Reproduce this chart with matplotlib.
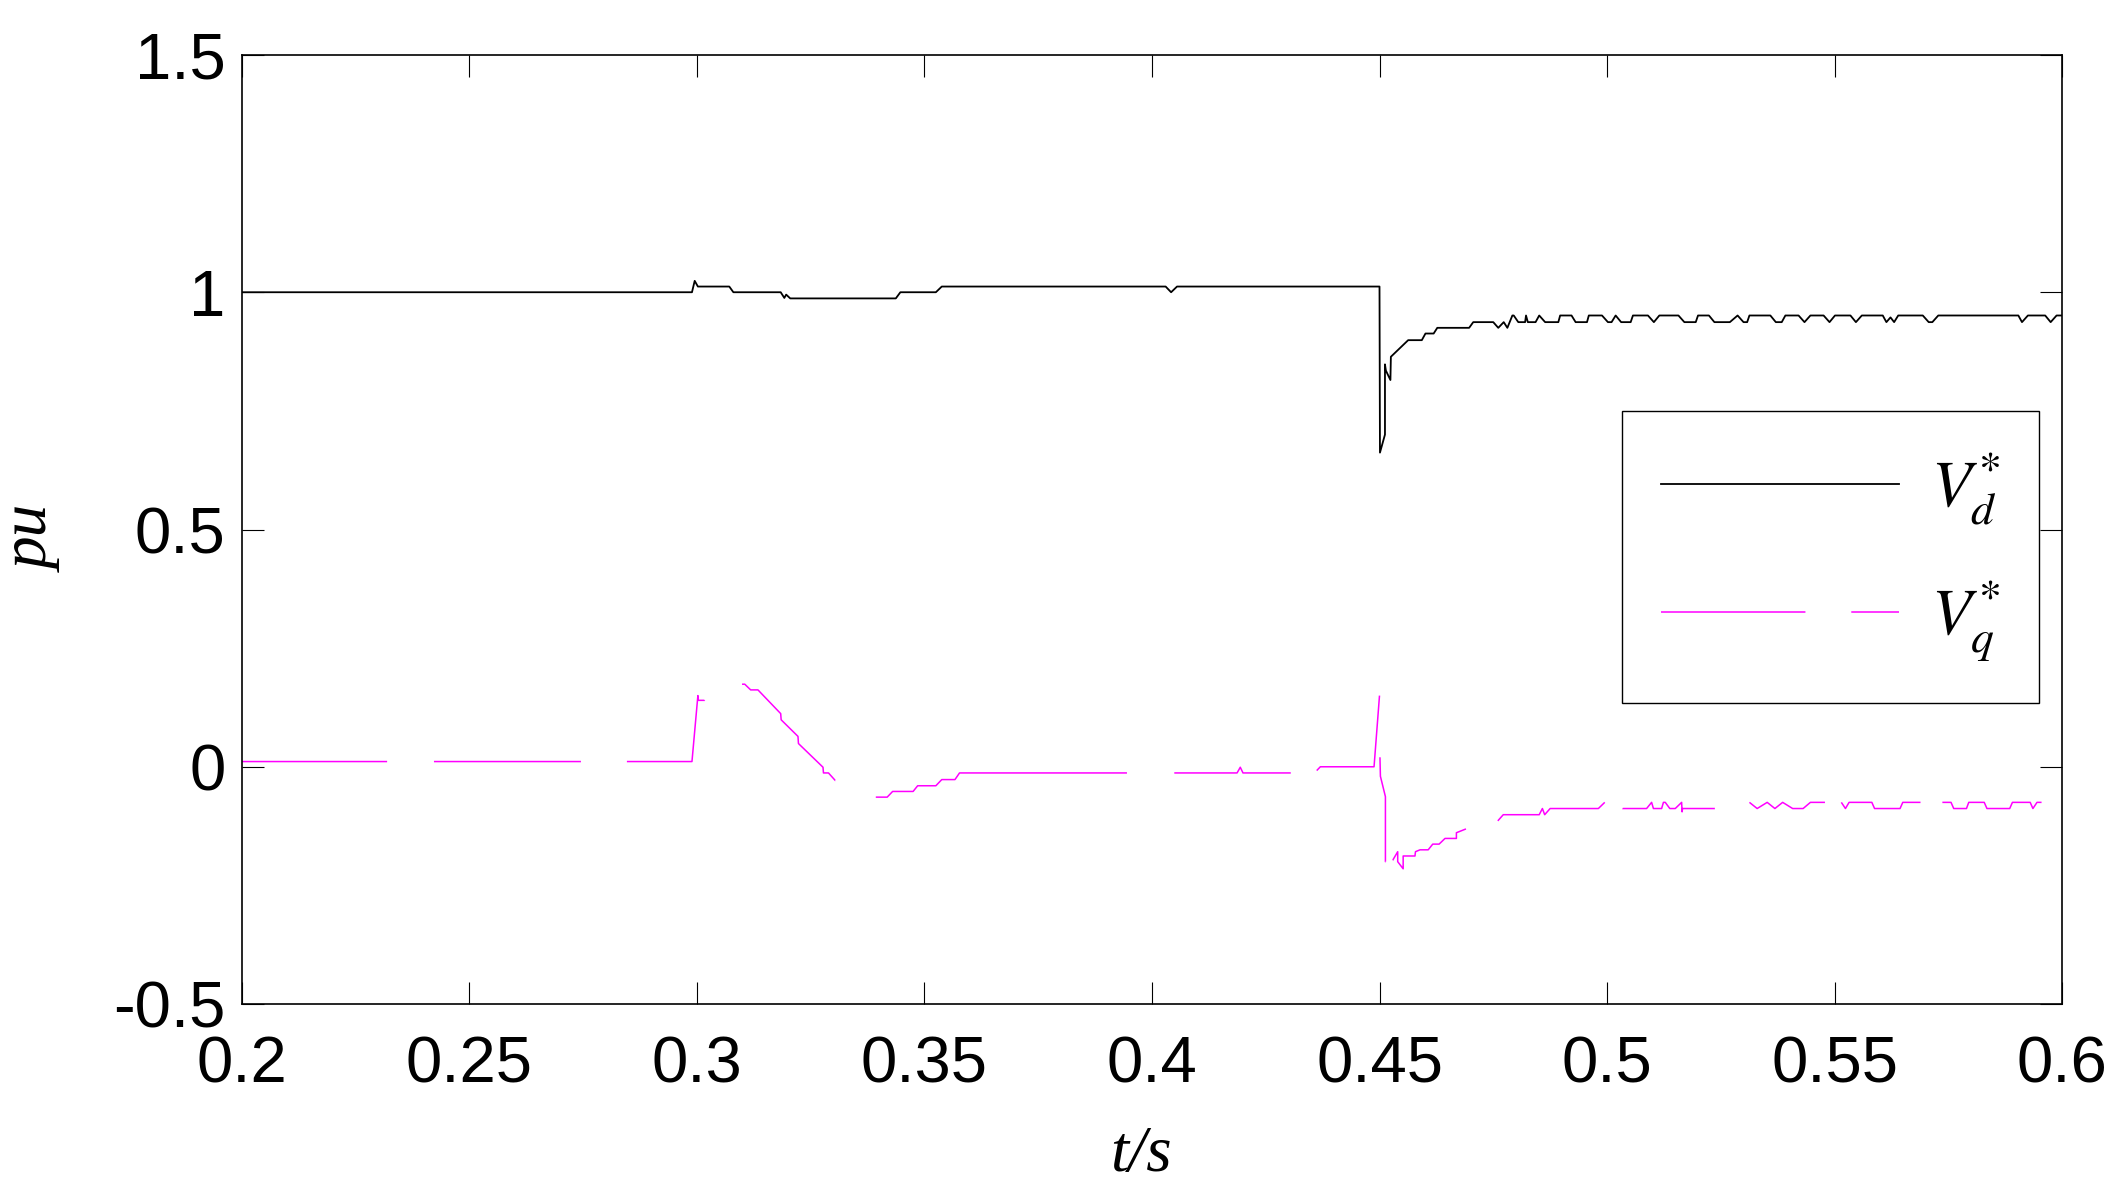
import matplotlib
matplotlib.use("Agg")
import numpy as np
import matplotlib.pyplot as plt

# ================================
# Data
# ================================

# V_d* : time (s) and value (pu)
vd_t = [0.2, 0.2989, 0.2995, 0.3002, 0.3071, 0.3080, 0.3184, 0.3192, 0.3196, 0.3205,
        0.3437, 0.3447, 0.3525, 0.3538, 0.4030, 0.4042, 0.4055, 0.4500, 0.4501, 0.4512,
        0.4512, 0.4514, 0.4524, 0.4525, 0.4563, 0.4593, 0.4601, 0.4619, 0.4627, 0.4697,
        0.4706, 0.4750, 0.4761, 0.4773, 0.4781, 0.4792, 0.4795, 0.4805, 0.4820, 0.4822,
        0.4826, 0.4843, 0.4851, 0.4864, 0.4893, 0.4897, 0.4922, 0.4931, 0.4956, 0.4960,
        0.4989, 0.5002, 0.5010, 0.5019, 0.5031, 0.5052, 0.5057, 0.5090, 0.5103, 0.5115,
        0.5157, 0.5170, 0.5195, 0.5200, 0.5224, 0.5236, 0.5270, 0.5287, 0.5300, 0.5308,
        0.5313, 0.5359, 0.5371, 0.5384, 0.5392, 0.5421, 0.5434, 0.5447, 0.5476, 0.5489,
        0.5501, 0.5535, 0.5547, 0.5560, 0.5606, 0.5614, 0.5623, 0.5631, 0.5640, 0.5694,
        0.5707, 0.5715, 0.5728, 0.5904, 0.5912, 0.5925, 0.5963, 0.5975, 0.5988, 0.6000]
vd_y = [1.0, 1.0, 1.024, 1.012, 1.012, 1.0, 1.0, 0.988, 0.995, 0.987,
        0.987, 1.0, 1.0, 1.012, 1.012, 1.0, 1.012, 1.012, 0.662, 0.700,
        0.848, 0.835, 0.815, 0.864, 0.899, 0.899, 0.913, 0.913, 0.925, 0.925,
        0.937, 0.937, 0.925, 0.937, 0.925, 0.951, 0.951, 0.937, 0.937, 0.951,
        0.937, 0.937, 0.951, 0.937, 0.937, 0.951, 0.951, 0.937, 0.937, 0.951,
        0.951, 0.937, 0.937, 0.951, 0.937, 0.937, 0.951, 0.951, 0.937, 0.951,
        0.951, 0.937, 0.937, 0.951, 0.951, 0.937, 0.937, 0.951, 0.937, 0.937,
        0.951, 0.951, 0.937, 0.937, 0.951, 0.951, 0.937, 0.951, 0.951, 0.937,
        0.951, 0.951, 0.937, 0.951, 0.951, 0.937, 0.947, 0.937, 0.951, 0.951,
        0.937, 0.937, 0.951, 0.951, 0.937, 0.951, 0.951, 0.937, 0.951, 0.951]

# V_q* : time (s) and value (pu)
vq_t = [0.2, 0.2989, 0.3002, 0.3003, 0.3017, 0.3060, 0.3099, 0.3105, 0.3118, 0.3134,
        0.3184, 0.3185, 0.3222, 0.3223, 0.3277, 0.3278, 0.3289, 0.3304, 0.3350, 0.3393,
        0.3418, 0.3430, 0.3475, 0.3485, 0.3525, 0.3538, 0.3567, 0.3577, 0.4187, 0.4194,
        0.4200, 0.4305, 0.4362, 0.4370, 0.4488, 0.4500, 0.4501, 0.4502, 0.4513, 0.4513,
        0.4529, 0.4540, 0.4540, 0.4552, 0.4552, 0.4578, 0.4579, 0.4589, 0.4607, 0.4617,
        0.4631, 0.4644, 0.4669, 0.4669, 0.4690, 0.4725, 0.4760, 0.4772, 0.4851, 0.4858,
        0.4863, 0.4875, 0.4981, 0.4995, 0.5020, 0.5034, 0.5087, 0.5098, 0.5102, 0.5120,
        0.5124, 0.5128, 0.5138, 0.5150, 0.5164, 0.5165, 0.5166, 0.5237, 0.5280, 0.5313,
        0.5330, 0.5352, 0.5369, 0.5386, 0.5408, 0.5431, 0.5447, 0.5479, 0.5515, 0.5524,
        0.5532, 0.5582, 0.5588, 0.5644, 0.5650, 0.5689, 0.5737, 0.5756, 0.5762, 0.5790,
        0.5795, 0.5829, 0.5835, 0.5885, 0.5891, 0.5930, 0.5936, 0.5945, 0.5955, 0.6000]
vq_y = [0.011, 0.011, 0.150, 0.140, 0.140, 0.160, 0.174, 0.174, 0.162, 0.162,
        0.112, 0.099, 0.064, 0.049, -0.001, -0.013, -0.013, -0.029, -0.050, -0.064,
        -0.064, -0.052, -0.052, -0.040, -0.040, -0.027, -0.027, -0.013, -0.013, -0.001,
        -0.013, -0.013, -0.008, 0.0, 0.0, 0.150, 0.020, -0.020, -0.063, -0.200,
        -0.197, -0.179, -0.200, -0.215, -0.188, -0.188, -0.179, -0.175, -0.175, -0.163,
        -0.163, -0.151, -0.151, -0.139, -0.131, -0.122, -0.114, -0.101, -0.101, -0.088,
        -0.101, -0.088, -0.088, -0.075, -0.080, -0.088, -0.088, -0.075, -0.088, -0.088,
        -0.075, -0.075, -0.088, -0.088, -0.075, -0.095, -0.088, -0.088, -0.088, -0.075,
        -0.088, -0.075, -0.088, -0.075, -0.088, -0.088, -0.075, -0.075, -0.075, -0.088,
        -0.075, -0.075, -0.088, -0.088, -0.075, -0.075, -0.075, -0.075, -0.088, -0.088,
        -0.075, -0.075, -0.088, -0.088, -0.075, -0.075, -0.088, -0.075, -0.075, -0.075]

# where the dashed V_q* line has its gaps (start, end time)
vq_gaps = [(0.2319, 0.2422), (0.2745, 0.2846), (0.3017, 0.3099), (0.3304, 0.3393),
           (0.3945, 0.4049), (0.4305, 0.4362), (0.4500, 0.4501), (0.45135, 0.4529),
           (0.4690, 0.4760), (0.4995, 0.5034), (0.5237, 0.5313), (0.5479, 0.5515),
           (0.5689, 0.5737), (0.5955, 0.6000)]

x_ticks = [0.2, 0.25, 0.3, 0.35, 0.4, 0.45, 0.5, 0.55, 0.6]
x_tick_labels = ["0.2", "0.25", "0.3", "0.35", "0.4", "0.45", "0.5", "0.55", "0.6"]
y_ticks = [-0.5, 0, 0.5, 1, 1.5]
y_tick_labels = ["-0.5", "0", "0.5", "1", "1.5"]

# ================================
# Figure
# ================================

plt.rcParams['mathtext.fontset'] = 'stix'
plt.rcParams['lines.scale_dashes'] = False

fig = plt.figure(figsize=(21.28, 11.95), dpi=100)
ax = fig.add_axes([0.1137, 0.1598, 0.8553, 0.7942])
ax.set_xlim(0.2, 0.6)
ax.set_ylim(-0.5, 1.5)


def dash_sequence(t, y, gaps):
    """On/off lengths (points) that put the gaps of a dashed line at given times."""
    pts = ax.transData.transform(np.column_stack([t, y]))
    seg = np.hypot(*np.diff(pts, axis=0).T) * 72 / fig.dpi
    cum = np.concatenate([[0], np.cumsum(seg)])

    def length_at(t0):
        for i in range(len(t) - 1):
            if t[i] <= t0 <= t[i + 1] and t[i + 1] > t[i]:
                return cum[i] + (t0 - t[i]) / (t[i + 1] - t[i]) * seg[i]
        return cum[-1]

    marks = [0.0]
    for a, b in gaps:
        marks += [length_at(a), length_at(b)]
    marks.append(cum[-1])
    seq = list(np.diff(marks)) + [1000.0]
    return [max(v, 0.01) for v in seq]


ax.plot(vd_t, vd_y, color='black', linewidth=1.3, label=r'$V^{*}_{d}$')
ax.plot(vq_t, vq_y, color='#ff00ff', linewidth=1.1,
        dashes=dash_sequence(vq_t, vq_y, vq_gaps), label=r'$V^{*}_{q}$')

ax.set_xticks(x_ticks)
ax.set_xticklabels(x_tick_labels, fontfamily='Liberation Sans', fontsize=47)
ax.set_yticks(y_ticks)
ax.set_yticklabels(y_tick_labels, fontfamily='Liberation Sans', fontsize=47)
ax.tick_params(axis='both', direction='in', length=16, width=0.8,
               top=True, right=True)
ax.tick_params(axis='x', pad=23)
ax.tick_params(axis='y', pad=12)
for sp in ax.spines.values():
    sp.set_linewidth(1.2)

ax.set_xlabel('t/s', fontfamily='Liberation Serif', fontstyle='italic', fontsize=47)
ax.set_ylabel('pu', fontfamily='Liberation Serif', fontstyle='italic', fontsize=47)
ax.xaxis.set_label_coords(0.494, -0.128)
ax.yaxis.set_label_coords(-0.098, 0.49)

leg = ax.legend(loc='upper left', bbox_to_anchor=(0.7582, 0.6245), fontsize=47,
                handlelength=3.64, handletextpad=0.5, borderpad=0.6,
                labelspacing=0.79, borderaxespad=0, fancybox=False,
                edgecolor='black', framealpha=1)
leg.get_frame().set_linewidth(1.0)
leg.get_lines()[1].set_dashes((104, 33))

fig.savefig("out.png", dpi=100)
